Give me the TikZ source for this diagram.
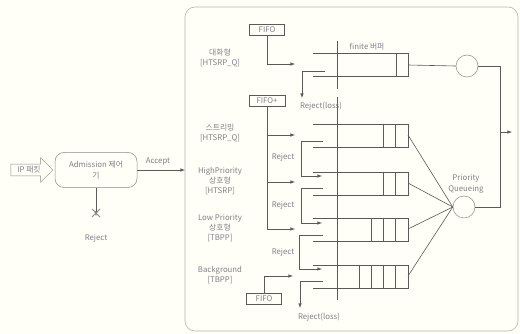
\documentclass[tikz,border=0pt]{standalone}
\usepackage{fontspec}
\setmainfont{Noto Sans CJK KR}
\usetikzlibrary{shapes.arrows}
\definecolor{ln}{HTML}{5A5A5A}
\definecolor{tx}{HTML}{80808A}
\definecolor{pn}{HTML}{B4B4B4}
\tikzset{
  lbl/.style={font=\fontsize{7.8}{10.2}\selectfont,text=tx,align=center,inner sep=0.5pt},
  fifobox/.style={draw=ln,line width=0.7pt,font=\fontsize{7.8}{8}\selectfont,text=tx,
    minimum width=35pt,minimum height=11pt,inner sep=0pt},
  wire/.style={draw=ln,line width=0.6pt},
  qline/.style={draw=ln,line width=0.6pt},
  server/.style={circle,draw=ln!70,line width=0.5pt,minimum size=22pt,inner sep=0pt}
}
\begin{document}
\begin{tikzpicture}[x=1pt,y=-1pt,>=latex]
    \useasboundingbox (0,0) rectangle (520,334);
    \fill[white!97!yellow] (0,0) rectangle (520,334);

    % outside the scheduler
    \node[single arrow,draw=ln!70,line width=0.5pt,lbl,minimum height=42pt,
      single arrow head extend=6.5pt,inner sep=2pt] (ip) at (29,170) {IP 패킷};
    \node[draw=ln!70,line width=0.5pt,rounded corners=9pt,minimum width=82pt,
      minimum height=35pt,lbl] (adm) at (96,170) {Admission 제어\\기};
    \coordinate (acc) at (185,170);
    \draw[wire,->] (adm.east) -- (acc);
    \node[lbl] (acctxt) at (158,162) {Accept};
    \coordinate (rx) at (96,213);
    \draw[wire,->] (adm.south) -- ([yshift=-3pt]rx);
    \draw[ln!70,line width=0.8pt] ([shift={(-4,-4)}]rx) -- ([shift={(4,4)}]rx)
      ([shift={(-4,4)}]rx) -- ([shift={(4,-4)}]rx);
    \node[lbl] (rxtxt) at (96,238) {Reject};

    % scheduler panel
    \draw[pn,line width=0.6pt,rounded corners=10pt] (185,7) rectangle (518,331);

    % traffic classes
    \node[lbl] (c1) at (220,58) {대화형\\{[HTSRP\_Q]}};
    \node[lbl] (c2) at (220,133) {스트리밍\\{[HTSRP\_Q]}};
    \node[lbl] (c3) at (220,181) {HighPriority\\상호형\\{[HTSRP]}};
    \node[lbl] (c4) at (220,228) {Low Priority\\상호형\\{[TBPP]}};
    \node[lbl] (c5) at (220,275) {Background\\{[TBPP]}};

    % queues
    \draw[qline] (313,53) -- (408,53) -- (408,76) -- (313,76) (396,53) -- (396,76);
    \foreach \yt/\n in {124/2,172/2,218/3,265/4} {
      \draw[qline] (313,\yt) -- (408,\yt) -- (408,\yt+23) -- (313,\yt+23);
      \foreach \k in {1,...,\n} {\draw[qline] (408-12.3*\k,\yt) -- (408-12.3*\k,\yt+23);}
    }
    \node[lbl] (fin) at (367,47) {finite 버퍼};
    \draw[wire] (337,41) -- (337,89);
    \draw[wire] (337,97) -- (337,300);

    % conversational class
    \node[fifobox] (fifo1) at (267,30) {FIFO};
    \coordinate (in1) at (295,64);
    \draw[wire,->] (fifo1.south) |- (in1);
    \coordinate (out1) at (325,71);
    \coordinate (loss1) at (302,98);
    \draw[wire,->] (out1) -| (loss1);
    \node[lbl] (losstxt1) at (321,106) {Reject(loss)};

    % FIFO+ classes
    \node[fifobox,minimum width=36pt] (fifo2) at (267,101) {FIFO+};
    \coordinate (in2) at (295,135);
    \coordinate (in3) at (295,182);
    \coordinate (in4) at (295,229);
    \draw[wire,->] (fifo2.south) |- (in4);
    \draw[wire,->] (fifo2.south |- in2) -- (in2);
    \draw[wire,->] (fifo2.south |- in3) -- (in3);

    % background class
    \node[fifobox] (fifo3) at (264,299) {FIFO};
    \coordinate (in5) at (293,276);
    \draw[wire,->] (fifo3.north) |- (in5);

    % rejects
    \coordinate (out2) at (323,141);
    \coordinate (dn2) at (322,176);
    \draw[wire,->] (out2) -- (301,141) |- (dn2);
    \node[lbl] (rj2) at (283,157) {Reject};
    \coordinate (out3) at (323,188);
    \coordinate (dn3) at (322,223);
    \draw[wire,->] (out3) -- (301,188) |- (dn3);
    \node[lbl] (rj3) at (283,205) {Reject};
    \coordinate (out4) at (323,235);
    \coordinate (dn4) at (322,269);
    \draw[wire,->] (out4) -- (299,235) |- (dn4);
    \node[lbl] (rj4) at (283,252) {Reject};
    \coordinate (out5) at (323,281);
    \coordinate (loss5) at (300,308);
    \draw[wire,->] (out5) -| (loss5);
    \node[lbl] (losstxt5) at (319,317) {Reject(loss)};

    % servers
    \node[server] (srv1) at (467,66) {};
    \node[server] (srv2) at (464,207) {};
    \node[lbl] (pq) at (466,184) {Priority\\Queueing};
    \draw[wire] (408,65) -- (srv1.west);
    \foreach \ym in {135,183,229,276} {\draw[wire] (408,\ym) -- (srv2.west);}
    \coordinate (jn) at (500,66);
    \coordinate (outp) at (512,132);
    \draw[wire] (srv1.east) -- (jn) |- (srv2.east);
    \draw[wire,->] (jn |- outp) -- (outp);
\end{tikzpicture}
\end{document}
